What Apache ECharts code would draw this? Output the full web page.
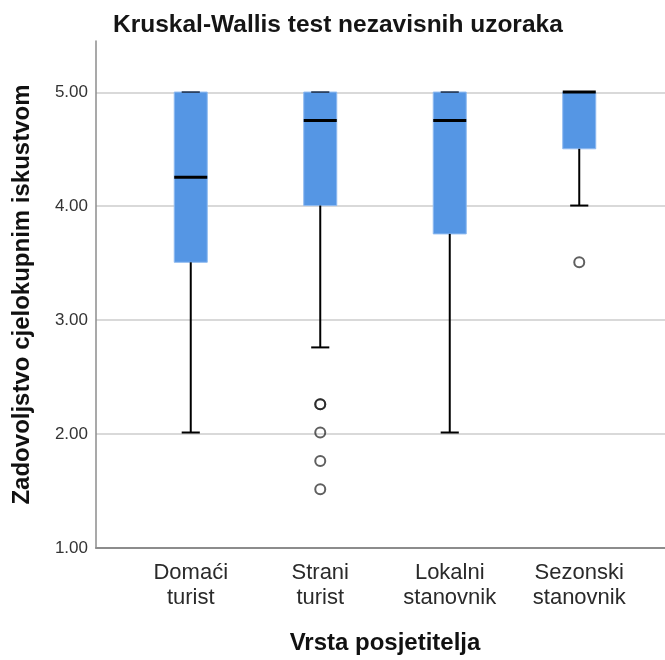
<!DOCTYPE html>
<html>
<head>
<meta charset="utf-8">
<script src="https://cdn.jsdelivr.net/npm/echarts@6/dist/echarts.min.js"></script>
<style>html,body{margin:0;padding:0;background:#fff}#c{width:665px;height:660px}</style>
</head>
<body>
<div id="c"></div>
<script>
const categories = ['Domaći\nturist', 'Strani\nturist', 'Lokalni\nstanovnik', 'Sezonski\nstanovnik'];
const lowWhisker = [2.0, 2.75, 2.0, 4.0];
const q1 = [3.5, 4.0, 3.75, 4.5];
const median = [4.25, 4.75, 4.75, 5.0];
const q3 = [5.0, 5.0, 5.0, 5.0];
const highWhisker = [5.0, 5.0, 5.0, 5.0];
// outliers: [category index, value]
const outliers = [[1, 2.25], [1, 2.25], [1, 2.0], [1, 1.75], [1, 1.5], [3, 3.5]];

const FONT = '"Liberation Sans", Arial, sans-serif';
const boxData = categories.map((c, i) => [i, lowWhisker[i], q1[i], median[i], q3[i], highWhisker[i]]);

const chart = echarts.init(document.getElementById('c'), null, {renderer: 'canvas'});
chart.setOption({
  animation: false,
  backgroundColor: '#fff',
  title: {
    text: 'Kruskal-Wallis test nezavisnih uzoraka',
    left: 108, top: 8,
    textStyle: {fontFamily: FONT, fontSize: 24.5, fontWeight: 'bold', color: '#151515'}
  },
  grid: [
    {left: 96, right: 0, top: 41, bottom: 112},
    {left: 126, width: 518, top: 41, bottom: 112}
  ],
  xAxis: [
    {gridIndex: 0, type: 'value', min: 0, max: 1,
     axisLine: {show: true, onZero: false, lineStyle: {color: '#8c8c8c', width: 2}},
     axisTick: {show: false}, axisLabel: {show: false}, splitLine: {show: false}},
    {gridIndex: 1, type: 'category', data: categories,
     axisLine: {show: false}, axisTick: {show: false},
     axisLabel: {margin: 14, fontFamily: FONT, fontSize: 22, lineHeight: 25, color: '#2a2a2a'},
     name: 'Vrsta posjetitelja', nameLocation: 'middle', nameGap: 85,
     nameTextStyle: {fontFamily: FONT, fontSize: 24, fontWeight: 'bold', color: '#111'}}
  ],
  yAxis: [
    {gridIndex: 0, type: 'value', min: 1, max: 5.45, interval: 1,
     axisLine: {show: true, lineStyle: {color: '#8c8c8c', width: 1.5}},
     axisTick: {show: false},
     axisLabel: {margin: 8, fontFamily: FONT, fontSize: 17, color: '#333', showMaxLabel: false,
       formatter: v => (Math.abs(v - Math.round(v)) < 1e-9 ? v.toFixed(2) : '')},
     splitLine: {show: true, showMaxLine: false, showMinLine: false, lineStyle: {color: '#cccccc', width: 1.5}},
     name: 'Zadovoljstvo cjelokupnim iskustvom', nameLocation: 'middle', nameGap: 62, nameRotate: 90,
     nameTextStyle: {fontFamily: FONT, fontSize: 24, fontWeight: 'bold', color: '#111'}},
    {gridIndex: 1, type: 'value', min: 1, max: 5.45, show: false, splitLine: {show: false}}
  ],
  series: [
    {
      type: 'custom', xAxisIndex: 1, yAxisIndex: 1,
      encode: {x: 0, y: [1, 2, 3, 4, 5]},
      data: boxData,
      renderItem: function (params, api) {
        const x = api.value(0);
        const pLow = api.coord([x, api.value(1)]);
        const pQ1 = api.coord([x, api.value(2)]);
        const pMed = api.coord([x, api.value(3)]);
        const pQ3 = api.coord([x, api.value(4)]);
        const pHigh = api.coord([x, api.value(5)]);
        const band = api.size([1, 0])[0];
        const bw = band * 0.255;
        const cw = band * 0.14;
        const cx = pMed[0];
        const black = {stroke: '#000', lineWidth: 2};
        return {
          type: 'group',
          children: [
            {type: 'rect', shape: {x: cx - bw / 2, y: pQ3[1], width: bw, height: pQ1[1] - pQ3[1]},
             style: {fill: '#5596e4', stroke: '#8fbaf0', lineWidth: 1}},
            {type: 'line', shape: {x1: cx, y1: pLow[1], x2: cx, y2: pQ1[1]}, style: black},
            {type: 'line', shape: {x1: cx, y1: pQ3[1], x2: cx, y2: pHigh[1]}, style: black},
            {type: 'line', shape: {x1: cx - cw / 2, y1: pLow[1], x2: cx + cw / 2, y2: pLow[1]}, style: black},
            {type: 'line', shape: {x1: cx - cw / 2, y1: pHigh[1], x2: cx + cw / 2, y2: pHigh[1]}, style: {stroke: '#1a2a44', lineWidth: 1.5}},
            {type: 'line', shape: {x1: cx - bw / 2, y1: pMed[1], x2: cx + bw / 2, y2: pMed[1]}, style: {stroke: '#000', lineWidth: 3}}
          ]
        };
      }
    },
    {
      type: 'scatter', xAxisIndex: 1, yAxisIndex: 1,
      data: outliers,
      symbol: 'circle', symbolSize: 10,
      itemStyle: {color: 'rgba(255,255,255,0)', borderColor: 'rgba(20,20,20,0.85)', borderWidth: 2}
    }
  ]
});
</script>
</body>
</html>
